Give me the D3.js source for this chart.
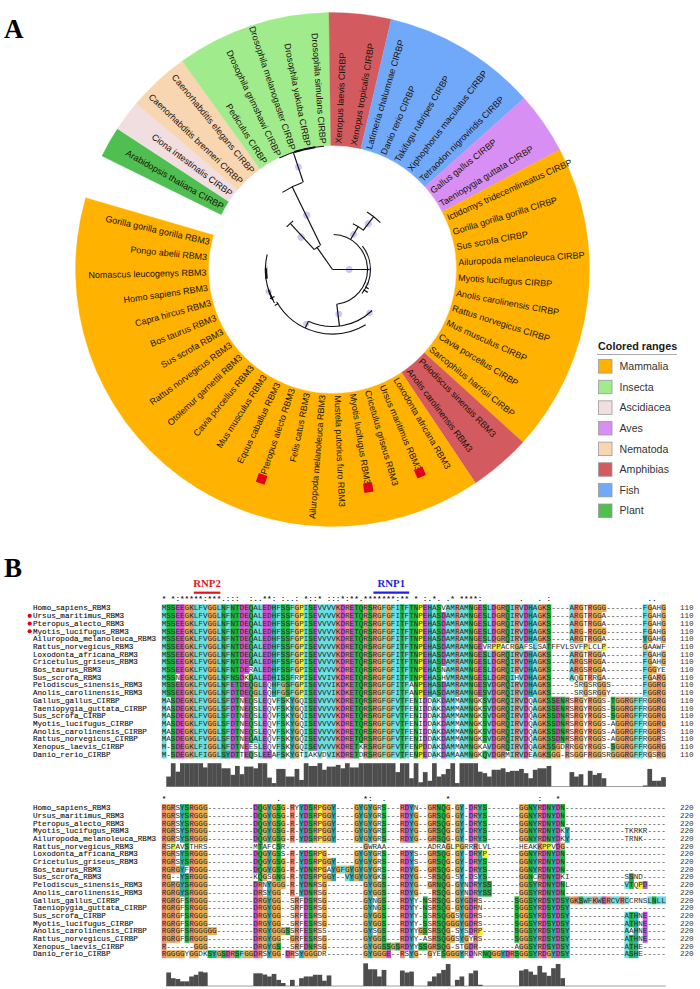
<!DOCTYPE html>
<html><head><meta charset="utf-8">
<script src="https://cdn.jsdelivr.net/npm/d3@7/dist/d3.min.js"></script>
<style>html,body{margin:0;padding:0;background:#fff}svg{display:block}</style>
</head><body><svg id="c" width="700" height="989"></svg>
<script>
// ---------- Panel A data ----------
const rangeNames  = ["Plant","Ascidiacea","Nematoda","Insecta","Amphibias","Fish","Aves","Mammalia","Amphibias","Mammalia"];
const rangeCounts = [1,1,2,5,2,5,2,10,2,20];
const legendNames = ["Mammalia","Insecta","Ascidiacea","Aves","Nematoda","Amphibias","Fish","Plant"];
const legendColors = ["#FFB300","#A0EC8C","#F1DEE1","#D78FF4","#F8D6B2","#D35B60","#70A9FA","#50BF52"];
const leaves = ["Arabidopsis thaliana CIRBP","Ciona intestinalis CIRBP","Caenorhabditis brenneri CIRBP","Caenorhabditis elegans CIRBP","Pediculus CIRBP","Drosophila grimshawi CIRBP","Drosophila melanogaster CIRBP","Drosophila yakuba CIRBP","Drosophila simulans CIRBP","Xenopus laevis CIRBP","Xenopus tropicalis CIRBP","Latimeria chalumnae CIRBP","Danio rerio CIRBP","Takifugu rubripes CIRBP","Xiphophorus maculatus CIRBP","Tetraodon nigroviridis CIRBP","Gallus gallus CIRBP","Taeniopygia guttata CIRBP","Ictidomys tridecemlineatus CIRBP","Gorilla gorilla gorilla CIRBP","Sus scrofa CIRBP","Ailuropoda melanoleuca CIRBP","Myotis lucifugus CIRBP","Anolis carolinensis CIRBP","Rattus norvegicus CIRBP","Mus musculus CIRBP","Cavia porcellus CIRBP","Sarcophilus harrisii CIRBP","Pelodiscus sinensis RBM3","Anolis carolinensis RBM3","Loxodonta africana RBM3","Ursus maritimus RBM3","Cricetulus griseus RBM3","Myotis lucifugus RBM3","Mustela putorius furo RBM3","Ailuropoda melanoleuca RBM3","Felis catus RBM3","Pteropus alecto RBM3","Equus caballus RBM3","Mus musculus RBM3","Cavia porcellus RBM3","Otolemur garnettii RBM3","Rattus norvegicus RBM3","Sus scrofa RBM3","Bos taurus RBM3","Capra hircus RBM3","Homo sapiens RBM3","Nomascus leucogenys RBM3","Pongo abelii RBM3","Gorilla gorilla gorilla RBM3"];
const markedLeaves = ["Ursus maritimus RBM3","Myotis lucifugus RBM3","Pteropus alecto RBM3"];
// tree arcs: [branch depth, start deg, end deg, weight]
const treeArcs = [[27,-42,-28,1.1],[92,-33,-19,1.1],[123.5,-25.5,-4,1.1],[123.5,-18,-8,2],[62.5,-47,-39,1.1],[35,2,173,1.1],[38,52,129,1.1],[50,24,38.6,1.1],[67,31,45.6,1.1],[57,136,205,1.1],[64.5,149,240,1.1],[67,240,283,1.1],[66.5,262,271,2.4],[67,243,252,1.8]];
// tree radial branches: [deg, depth from, depth to]
const treeRadials = [[-35,0,27],[90,0,37],[-26,27,92],[-18.5,92,123.5],[-42.5,27,62.5],[31,35,50],[38,50,67],[173,35,57],[205,57,64.5],[118,37,41],[123,37,42],[245,64,69],[238,64,68]];
// support markers: [deg, depth, size]
const treeNodes = [[-18.4,108,3.4],[-25.4,60,3.6],[-44,45,3.6],[90,16.7,3.4],[31,40.8,3.4],[38,58,3.6],[90,36.5,1.8],[172,45,3.4],[139.5,57,3.2],[205.9,60.4,3],[251,67.6,3.2],[272,66,1.6],[112,38,1.8],[-11,124,1.8]];

// ---------- Panel B data ----------
const seqNames = ["Homo_sapiens_RBM3","Ursus_maritimus_RBM3","Pteropus_alecto_RBM3","Myotis_lucifugus_RBM3","Ailuropoda_melanoleuca_RBM3","Rattus_norvegicus_RBM3","Loxodonta_africana_RBM3","Cricetulus_griseus_RBM3","Bos_taurus_RBM3","Sus_scrofa_RBM3","Pelodiscus_sinensis_RBM3","Anolis_carolinensis_RBM3","Gallus_gallus_CIRBP","Taeniopygia_guttata_CIRBP","Sus_scrofa_CIRBP","Myotis_lucifugus_CIRBP","Anolis_carolinensis_CIRBP","Rattus_norvegicus_CIRBP","Xenopus_laevis_CIRBP","Danio_rerio_CIRBP"];
const starredSeqs = ["Ursus_maritimus_RBM3","Pteropus_alecto_RBM3","Myotis_lucifugus_RBM3"];
// gaps written as -N
const block1 = [
"MSSEEGKLFVGGLNFNTDEQALEDHFSSFGPISEVVVVKDRETQRSRGFGFITFTNPEHASVAMRAMNGESLDGRQIRVDHAGKS-4ARGTRGGG-8FGAHG",
"MSSEEGKLFVGGLNFNTDEQALEDHFSSFGPISEVVVVKDRETQRSRGFGFITFTNPEHASDAMRAMNGESLDGRQIRVDHAGKS-4ARGTRGGA-8FGAHG",
"MSSEEGKLFVGGLNFNTDEQALEDHFSSFGPISEVVVVKDRETQRSRGFGFITFTNPEHASDAMRAMNGESLDGRQIRVDHAGKS-4ARGTRGGA-8FGAHG",
"MSSEEGKLFVGGLNFNTDEQALEDHFSSFGPISEVVVVKDRETQRSRGFGFITFTNPEHASDAMRAMNGESLDGRQIRVDHAGKS-4ARG-1RGGG-8FGAHG",
"MSSEEGKLFVGGLNFNTDEQALEDHFSSFGPISEVVVVKDRETQRSRGFGFITFTNPEHASDAMRAMNGESLDGRQIRVDHAGKS-4ARGTRGGA-8YGAHG",
"MSSEEGKLFVGGLNFNTDEQALEDHFSSFGPISEVVVVKDRETQRSRGFGFITFTNPEHASDAMRAMNGEVRPPACRGAFSLSATFFVLSVFPLCLP-8GAAWF",
"MSSEEGKLFVGGLNFNTDEQALEDHFSSFGPISEVVVVKDRETQRSRGFGFITFTNPEHASDAMRAMNGESLDGRQIRVDHAGKS-4ARGTRGGA-8FGAHG",
"MSSEEGKLFVGGLNFNTDEQALEDHFSSFGPISEVVVVKDRETQRSRGFGFITFTNPEHASDAMRAMNGESLDGRQIRVDHAGKS-4ARGSRGGA-8FGAHG",
"MSSEEGKLFVGGLNFNTDERALEDHFSSFGPISEVVVVKDRETQRSRGFGFITFTNPEHASNAMRAMNGESLDGRQIRVDHAGKS-4ARGSRGGA-8FGGYE",
"MSSNEGKLFVGGLNFNSDKQALEDHISSFRPISEVVIVKDRETQRSRGFGFITFTNPEHASHVMRAMNGESLDGRQIHVDHAGKS-4AQGTRRGA-8FGARG",
"MSSEEGKLFVGGLNFETDEQGLEQHFGSFGPISEVVVIKDKETQRSRGFGFITFANPEHASDAMRAMNGESVDGRQIRVDHAGKS-5SRGSRGGS-7FGGRG",
"MSSEEGKLFVGGLNFDTDEQGLEQHFGSFGPISEVVVIKDKETQRSRGFGFITFANPEHASDAMRAMNGESVDGRQIRVDHAGKS-5SRGSRGGY-7FGGRG",
"MASDEGKLFVGGLSFDTNEQSLEQVFSKYGQISEVVVVKDRETQRSRGFGFVTFENIDDAKDAMMAMNGKSVDGRQIRVDQAGKSSENRSRGYRGGS-1TGGRGFFRGGRG",
"MASDEGKLFVGGLSFDTNEQSLEQVFSKYGQISEVVVVKDRETQRSRGFGFVTFENIDDAKDAMMAMNGKSVDGRQIRVDQAGKSSENRSRGYRGGS-1SGGRGFFRGGRG",
"MASDEGKLFVGGLSFDTNEQSLEQVFSKYGQISEVVVVKDRETQRSRGFGFVTFENIDDAKDAMMAMNGKSVDGRQIRVDQAGKSSDNRSRGYRGGS-1SGGRGFFRGGRG",
"MASDEGKLFVGGLSFDTNEQSLEQVFSKYGQISEVVVVKDRETQRSRGFGFVTFENIDDAKDAMMAMNGKSVDGRQIRVDQAGKSSDNRSRGYRGGS-1AGGRGFFRGGRG",
"MASDEGKLFVGGLSFDTNEQSLEQVFSKYGQISEVVVVKDRETQRSRGFGFVTFENIDDAKDAMMAMNGKSVDGRQIRVDQAGKSSDNRSRGYRGGS-1AGGRGFFRGGRS",
"MASDEGKLFVGGLSFDTNEQALEQVFSKYGQISEVVVVKDRETQRSRGFGFVTFENIDDAKDAMMAMNGKSVDGRQIRVDQAGKSSDNRSRGYRGGS-1AGGRGFFRGGRS",
"M-1SDEGKLFIGGLNFDTNEESLEQVFSKYGQISEVVVVKDRETKRSRGFGFVTFENPDDAKDAMMAMNGKAVDGRQIRVDQAGKSSGDRRGGYRGGS-1SGGRGFFRGGRG",
"M-1SDEGKLFIGGLSYDTTEQSLEEAFSKYGTIAKVDVIKDRETDRSRGFGFVTFENPEDAKDAMAAMNGKQVDGRMIRVDEAGKSGG-1RSGGFRGGSRGGGRGFFRGSRG"];
const block2 = [
"RGRSYSRGGG-10DQGYGSG-1RYYDSRPGGY-4GYGYGRS-3RDYN-2GRNQG-1GY-1DRYS-7GGNYRDNYDN-22",
"RGRSYSRGGG-10DQGYGSG-1R-1YDSRPGGY-4GYGYGRS-3RDYG-2GRSQG-1GY-1DRYS-7GGNYRDNYDN-22",
"RGRSYSRGGG-10DQGYGSG-1R-1YDSRPGGY-4GYGYGRS-3RDYG-2GRSQG-1GY-1DRYS-7GGNYRDNYDN-22",
"RGRSYSRGGG-10DQGYGSG-1R-1YDSRPGGY-4GYGYGRS-3RDYG-2GRSQG-1GY-1DRYS-7GGNYRDNYDKY-12TKRKR-4",
"RGRSYSRGGG-10DQGYGSG-1R-1YDSRPGGY-4GYGYGRS-3RDYG-2GRSQG-1GY-1DRYS-7GGNYRDNYDKY-12TRNK-5",
"RSPAVSTHRS-10MTAFCSR-17GWRAA-9ADRAGLPGRRRLVL-6HEAKKPPVDG-22",
"RGRSYSRGGG-10DQGYGSS-1R-1YDSRPG-6GYGYGRS-3RDYS-2GRSQG-1GY-1DRYP-7GGNYRDNYDN-22",
"RGRSYSRGGG-10DQGYGSG-1R-1YDSRPGGY-4GYGYGRS-3RDYS-2GRSQG-1GY-1DRYS-7GGNYRDNYDN-22",
"RGRGYFRGGG-10DQGYGSG-1R-1YDNRPGAYGFGYGYGYGRS-3RDYG-2GRSQG-1GY-1DRYS-7GGNYRDNYDN-22",
"RG-2YSRGGG-10KQGSGNG-1R-1YDSRPGGY-2VYGYGYGKS-3RDYG-2SRSQG-1SY-1DSYS-7GGNCRDNYDKI-12SSND-5",
"RGRGYSRGGG-10DRNYGGG-1R-1YDNRSG-8GYGGS-3RDYG-2GRNQG-1GYNDRYSS-6GGSYRDNYDNL-12VTQPD-4",
"RGRGYSRGGG-10DRSYGG-2R-1YDNRSG-8GYGGS-3RDYG-3RSQG-1GYNDRYSS-6GGSYRDNYDN-22",
"RGRGFSRGGG-10DRGYGG-2SRFDSRSG-8GYNGS-3RDYY-1NSRSQG-1GYGDRS-7SGGSYRDSYDSYGKSWFKWERCVRCCRNSLNLL",
"RGRGFSRGGG-10DRGYGG-2SRFDSRSG-8GYNGS-3RDYY-1NSRSQG-1GYGDRN-7SGGSYRDSYDSY-21",
"RGRGFSRGGG-10DRGYGG-2SRFESRSG-8GYGGS-3RDYY-1SSRSQGGSYGDRS-7SGGSYRDSYDSY-12ATHNE-4",
"RGRGFSRGGG-10DRGYGG-2SRFESRSG-8GYGGS-3RDYY-1SSRSQGGGYGDRS-7SGGSYRDSYDSY-12ATHNE-4",
"RGRGFSRGGGGG-8DRGYGGGSSRFESRSS-8GYSGS-3RDYYGSSRSQG-1SYSDRP-7SGGSYRDSYDSY-12AAHNE-4",
"RGRGFSRGGG-10DRGYGG-2GRFESRSG-8GYGGS-3RDYY-1ASRSQGGSYGYRS-7SGGSYRDSYDSY-12ATHNE-4",
"R-6GGG-10DRGYGS-2SRFDNRSG-8GYGGSSGSRDYYSSGRSQG-1STGDR-8AGGSYRDSYDSY-12ATHE-5",
"RGGGGYGGDKSYGSDRSFGGDRSYGG-1DRSYGGGDR-8GYGGGE-2RSYG-2GYESGGGYRDNRNQGGYDRSGGSYRDGYDSY-12ASHE-5"];
// consensus marks, as [column, mark text] runs
const consensus1 = [[0,"*"],[2,"*:*****:***.:::"],[19,":..**:"],[26,":..:"],[31,"*::*"],[36,":::*:**.*******:**"],[55,"*"],[57,":.*."],[62,".*"],[65,"****:"],[78,"."],[82,"."],[84,":"],[106,".."]];
const consensus2 = [[0,"*"],[25,"."],[44,"*:"],[48,"."],[62,"*"],[82,":"],[86,"*"]];
const conservation1 = [0,4.7,11,7,11,11,11,11,11,9,11,11,11,8.6,8.6,5.5,9.7,5.8,9.4,9.4,8.6,11,11,4.2,1.6,8.3,8.3,4.7,4.7,8.3,3.1,11,9.7,9.7,11,7.9,9.4,9.4,10.2,8.6,11,9,9,11,11,11,11,11,11,11,11,6.8,11,11,3.9,11,2,6.8,2.7,11,4.7,5.8,8.3,11,1.6,11,11,11,11,7,6.3,4.7,7.9,7.9,8.6,6.8,7.4,7.4,8.3,6.3,3.9,7.9,8.6,8.6,9.7,0,0,0,0,6.8,4.7,5.8,0.5,7.4,5.5,6.3,3.9,0,0,0,0,0,0,0,0,0.5,8.3,2.7,2.7,4.4];
const conservation2 = [0,6.4,3.7,3.3,2.2,2.2,4.5,5.3,6.8,6.4,0,0,0,0,0,0,0,0,0,0,6,6,5.4,4.5,5.7,2.9,1.4,0,2.9,0,3.7,4.5,4.5,5.3,5.3,2.5,5,0,0,0,0,0,0,0,10.7,7.9,7.9,4.5,7.6,0,0,0,7.3,6.4,6.8,0,0,0,2.2,4.5,6,7.6,10.4,0,2.9,4.5,0,6,7.3,0.6,0,0,0,0,0,0,0,0,7.3,7.9,6.8,5.3,9.5,6.4,4.8,8.4,10.4,3.7,0,0,0,0,0,0,0,0,0,0,0,0,0,0,0,0,0,0,0,0,0,0];
const motifs = [{name:"RNP2",from:7,to:12.8,color:"#E2141E"},{name:"RNP1",from:46.2,to:54,color:"#2222D6"}];

// ---------- helpers ----------
const svg = d3.select("#c");
const rad = d => d*Math.PI/180;
svg.append("rect").attr("width",700).attr("height",989).attr("fill","#fff");
const FS = "'Liberation Sans',Arial,sans-serif", FM = "'Liberation Mono','Courier New',monospace", FT = "'Liberation Serif','Times New Roman',serif";

// ---------- Panel A ----------
const cx = 332.5, cy = 269.5, R0 = 124, R1 = 257;
const A = svg.append("g").attr("transform",`translate(${cx},${cy})`);
const angle = d3.scaleLinear().domain([0,leaves.length]).range([-63.8,286.2]);
const legendColor = d3.scaleOrdinal().domain(legendNames).range(legendColors);
const arcGen = d3.arc();
let pos = 0;
const sectors = rangeNames.map((n,i)=>{const s={name:n,a0:angle(pos),a1:angle(pos+rangeCounts[i])};pos+=rangeCounts[i];return s;});
A.append("g").selectAll("path").data(sectors).join("path")
 .attr("d",d=>arcGen({innerRadius:R0,outerRadius:R1,startAngle:rad(d.a0),endAngle:rad(d.a1)}))
 .attr("fill",d=>legendColor(d.name)).attr("stroke",d=>legendColor(d.name)).attr("stroke-width",0.3);

A.append("g").selectAll("text").data(leaves).join("text")
 .attr("transform",(d,i)=>{const a=angle(i+.5);const left=(a<0||a>180);
    return `rotate(${a-90}) translate(${R0+2},0)`+(left?" rotate(180)":"");})
 .attr("text-anchor",(d,i)=>{const a=angle(i+.5);return (a<0||a>180)?"end":"start";})
 .attr("dy","0.35em").attr("font-family",FS).attr("font-size",9).attr("fill","#1a1208").text(d=>d);

A.append("g").selectAll("rect").data(markedLeaves).join("rect")
 .attr("x",-4.6).attr("y",-4.6).attr("width",9.2).attr("height",9.2).attr("fill","#E3001B")
 .attr("transform",d=>{const a=angle(leaves.indexOf(d)+.5);return `rotate(${a-90}) translate(221,0)`;});

const depth = d3.scaleLinear().domain([0,124]).range([0,124]);
const tree = A.append("g").attr("fill","none").attr("stroke","#111");
tree.selectAll("circle").data(treeNodes).join("circle")
 .attr("transform",d=>`rotate(${d[0]-90}) translate(${depth(d[1])},0)`).attr("r",d=>d[2])
 .attr("fill","#c4c4f0").attr("stroke","none").attr("opacity",.9);
tree.selectAll("path.a").data(treeArcs).join("path").attr("class","a")
 .attr("d",d=>arcGen({innerRadius:depth(d[0]),outerRadius:depth(d[0]),startAngle:rad(d[1]),endAngle:rad(d[2])}))
 .attr("stroke-width",d=>d[3]);
const radial = d3.lineRadial();
tree.selectAll("path.r").data(treeRadials).join("path").attr("class","r")
 .attr("d",d=>radial([[rad(d[0]),depth(d[1])],[rad(d[0]),depth(d[2])]])).attr("stroke-width",1.2);

// legend
const L = svg.append("g");
L.append("text").attr("x",598).attr("y",349.5).attr("font-family",FS).attr("font-weight",700).attr("font-size",10.8).attr("fill","#1a1a1a").text("Colored ranges");
L.append("line").attr("x1",597).attr("x2",677).attr("y1",354.5).attr("y2",354.5).attr("stroke","#a9a9b5").attr("stroke-width",1);
const ly = d3.scalePoint().domain(legendNames).range([366.3,510.7]);
L.selectAll("rect").data(legendNames).join("rect").attr("x",598.5).attr("y",d=>ly(d)-6.7).attr("width",13.5).attr("height",13.5)
 .attr("fill",d=>legendColor(d)).attr("stroke","#9a9a9a").attr("stroke-width",.8);
L.selectAll("text.l").data(legendNames).join("text").attr("class","l").attr("x",619.5).attr("y",d=>ly(d)+3.7)
 .attr("font-family",FS).attr("font-size",10.6).attr("fill","#333").text(d=>d);

// panel letters
svg.selectAll("text.p").data([["A",38],["B",577]]).join("text").attr("class","p").attr("x",4).attr("y",d=>d[1])
 .attr("font-family",FT).attr("font-weight",700).attr("font-size",27).attr("fill","#000").text(d=>d[0]);

// ---------- Panel B ----------
const expand = s => {let t=s.replace(/-(\d+)/g,(m,n)=>"-".repeat(+n));return (t+"-".repeat(110)).slice(0,110);};
const colIdx = d3.range(110);
const xCol = d3.scaleBand().domain(colIdx).range([161.7,665.7]);
const rowIdx = d3.range(seqNames.length);
const RES = {hyd:"#66DEE0",kr:"#E98A74",de:"#C64ECA",pol:"#1CB43E",g:"#E8AC52",p:"#F2F020",ar:"#26A8AC"};
const groupOf = c => "AILMFWVC".includes(c)?"hyd":"KR".includes(c)?"kr":"DE".includes(c)?"de":"STNQ".includes(c)?"pol":c==="G"?"g":c==="P"?"p":"HY".includes(c)?"ar":null;
function residueFill(seqs,col,c){
  const g = groupOf(c); if(!g) return null;
  if(g==="g"||g==="p") return RES[g];
  const present = seqs.filter(s=>s[col]!=="-");
  const n = present.filter(s=>groupOf(s[col])===g).length;
  const ar = present.filter(s=>"HYFWALIMV".includes(s[col])).length;
  if(g==="ar") return ar/present.length>=.5?RES.ar:null;
  return n/present.length>=.5?RES[g]:null;
}
function block(raw,opts){
  const seqs = raw.map(expand);
  const yRow = d3.scaleBand().domain(rowIdx).range([opts.top,opts.top+154]);
  const g = svg.append("g");
  const cells=[];
  seqs.forEach((s,r)=>colIdx.forEach(c=>cells.push({r,c,ch:s[c],fill:s[c]==="-"?null:residueFill(seqs,c,s[c])})));
  g.append("g").selectAll("rect").data(cells.filter(d=>d.fill)).join("rect")
   .attr("x",d=>xCol(d.c)).attr("y",d=>yRow(d.r)).attr("width",xCol.bandwidth()+.2).attr("height",yRow.bandwidth()+.2).attr("fill",d=>d.fill);
  g.append("g").attr("font-family",FM).attr("font-size",7.6).attr("fill","#2a2a2a").attr("text-anchor","middle")
   .selectAll("text").data(cells).join("text")
   .attr("x",d=>xCol(d.c)+xCol.bandwidth()/2).attr("y",d=>yRow(d.r)+yRow.bandwidth()/2+2.3).text(d=>d.ch);
  g.append("g").attr("font-family",FM).attr("font-size",7.6).attr("fill","#111").attr("stroke","#111").attr("stroke-width",.12)
   .selectAll("text").data(seqNames).join("text").attr("x",33).attr("y",(d,i)=>yRow(i)+yRow.bandwidth()/2+2.3).text(d=>d);
  g.append("g").attr("font-family",FM).attr("font-size",7.6).attr("fill","#333")
   .selectAll("text").data(rowIdx).join("text").attr("x",680).attr("y",i=>yRow(i)+yRow.bandwidth()/2+2.3).text(opts.count);
  g.append("g").selectAll("path").data(opts.stars?starredSeqs:[]).join("path")
   .attr("d",d3.symbol(d3.symbolCircle,14))
   .attr("transform",d=>`translate(29.7,${yRow(seqNames.indexOf(d))+yRow.bandwidth()/2})`).attr("fill","#E3001B");
  const marks=[];
  opts.consensus.forEach(([c,t])=>[...t].forEach((m,i)=>{if(m!==" ")marks.push({c:c+i,m});}));
  g.append("g").attr("font-family",FM).attr("font-size",7.6).attr("font-weight",700).attr("fill","#222").attr("text-anchor","middle")
   .selectAll("text").data(marks).join("text").attr("x",d=>xCol(d.c)+xCol.bandwidth()/2).attr("y",opts.top-3).text(d=>d.m);
  const h = d3.scaleLinear().domain([0,11]).range([opts.base,opts.base-23.3]);
  g.append("line").attr("x1",xCol(1)).attr("x2",665.7).attr("y1",opts.base).attr("y2",opts.base).attr("stroke","#888").attr("stroke-width",.8);
  g.append("g").attr("fill","#4d4d4d").selectAll("rect").data(opts.conservation).join("rect")
   .attr("x",(d,i)=>xCol(i)).attr("width",xCol.bandwidth()+.15).attr("y",d=>h(d)).attr("height",d=>opts.base-h(d));
}
block(block1,{top:604.3,base:786.5,consensus:consensus1,conservation:conservation1,count:"110",stars:true});
block(block2,{top:804,base:986,consensus:consensus2,conservation:conservation2,count:"220",stars:false});

// motif headers
const M = svg.append("g").selectAll("g").data(motifs).join("g");
M.append("text").attr("x",d=>(xCol(0)+xCol.step()*(d.from+d.to)/2)).attr("y",587).attr("text-anchor","middle")
 .attr("font-family",FT).attr("font-weight",700).attr("font-size",10.8).attr("fill",d=>d.color).text(d=>d.name);
M.append("line").attr("x1",d=>xCol(0)+xCol.step()*d.from).attr("x2",d=>xCol(0)+xCol.step()*d.to).attr("y1",592.7).attr("y2",592.7)
 .attr("stroke",d=>d.color).attr("stroke-width",2.2);
</script></body></html>
